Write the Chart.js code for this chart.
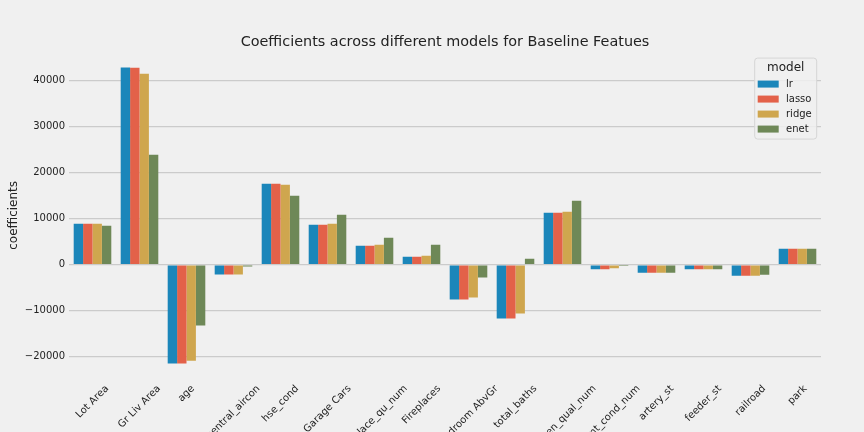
<!DOCTYPE html>
<html>
<head>
<meta charset="utf-8">
<script src="https://cdn.jsdelivr.net/npm/chart.js@4.4.1/dist/chart.umd.min.js"></script>
<style>
html,body{margin:0;padding:0;background:#f0f0f0;}
#wrap{width:864px;height:432px;position:relative;}
</style>
</head>
<body>
<div id="wrap"><canvas id="c"></canvas></div>
<script>
const categories = ['Lot Area','Gr Liv Area','age','central_aircon','hse_cond','Garage Cars','fireplace_qu_num','Fireplaces','Bedroom AbvGr','total_baths','kitchen_qual_num','bsmt_cond_num','artery_st','feeder_st','railroad','park'];
const models = ['lr','lasso','ridge','enet'];
const lrValues    = [8910, 42830, -21450, -2100, 17610, 8700, 4130, 1740, -7540, -11670, 11300, -1000, -1740, -1000, -2390, 3480];
const lassoValues = [8900, 42800, -21430, -2090, 17600, 8690, 4120, 1730, -7520, -11650, 11290, -990, -1740, -1000, -2380, 3480];
const ridgeValues = [8900, 41520, -20870, -2100, 17390, 8900, 4350, 1960, -7100, -10580, 11520, -770, -1740, -1000, -2390, 3480];
const enetValues  = [8480, 23910, -13190, -360, 15000, 10870, 5870, 4350, -2750, 1300, 13900, -30, -1740, -1000, -2170, 3480];
const yTicks = [-20000, -10000, 0, 10000, 20000, 30000, 40000];
const colors = ['#1b86ba','#e36149','#cfa64e','#6e8857'];
const seriesValues = [lrValues, lassoValues, ridgeValues, enetValues];

const FONT = '"DejaVu Sans", "Liberation Sans", sans-serif';
const TEXT = '#222222';

const bgPlugin = {
  id: 'bg',
  beforeDraw(chart) {
    const ctx = chart.ctx;
    ctx.save();
    ctx.fillStyle = '#f0f0f0';
    ctx.fillRect(0, 0, chart.width, chart.height);
    ctx.restore();
  }
};

const xLabelPlugin = {
  id: 'xlabels',
  afterDraw(chart) {
    const ctx = chart.ctx;
    const xs = chart.scales.x;
    const y0 = chart.chartArea.bottom + 5;
    ctx.save();
    ctx.font = '10px ' + FONT;
    ctx.fillStyle = TEXT;
    ctx.textAlign = 'center';
    ctx.textBaseline = 'middle';
    categories.forEach((lab, i) => {
      const x = xs.getPixelForValue(i);
      const w = ctx.measureText(lab).width;
      const h = 11.6;
      const H = (w + h) * Math.SQRT1_2;
      ctx.save();
      ctx.translate(x, y0 + H / 2);
      ctx.rotate(-Math.PI / 4);
      ctx.fillText(lab, 0, 0);
      ctx.restore();
    });
    ctx.restore();
  }
};

const legendPlugin = {
  id: 'boxlegend',
  afterDraw(chart) {
    const ctx = chart.ctx;
    const ca = chart.chartArea;
    const bw = 62, bh = 81;
    const left = ca.right - 4.3 - bw;
    const top = ca.top + 5.3;
    ctx.save();
    ctx.beginPath();
    const r = 3;
    ctx.moveTo(left + r, top);
    ctx.lineTo(left + bw - r, top);
    ctx.quadraticCurveTo(left + bw, top, left + bw, top + r);
    ctx.lineTo(left + bw, top + bh - r);
    ctx.quadraticCurveTo(left + bw, top + bh, left + bw - r, top + bh);
    ctx.lineTo(left + r, top + bh);
    ctx.quadraticCurveTo(left, top + bh, left, top + bh - r);
    ctx.lineTo(left, top + r);
    ctx.quadraticCurveTo(left, top, left + r, top);
    ctx.closePath();
    ctx.fillStyle = 'rgba(240,240,240,0.85)';
    ctx.fill();
    ctx.strokeStyle = '#d6d6d6';
    ctx.lineWidth = 1;
    ctx.stroke();
    ctx.fillStyle = TEXT;
    ctx.font = '12px ' + FONT;
    ctx.textAlign = 'center';
    ctx.textBaseline = 'middle';
    ctx.fillText('model', left + bw / 2, top + 9.5);
    ctx.font = '10px ' + FONT;
    ctx.textAlign = 'left';
    chart.data.datasets.forEach((ds, i) => {
      const cy = top + 26 + i * 15;
      ctx.fillStyle = ds.backgroundColor;
      ctx.fillRect(left + 3, cy - 3.5, 21, 7);
      ctx.fillStyle = TEXT;
      ctx.fillText(ds.label, left + 31.3, cy);
    });
    ctx.restore();
  }
};

new Chart(document.getElementById('c'), {
  type: 'bar',
  data: {
    labels: categories,
    datasets: models.map((m, i) => ({
      label: m,
      data: seriesValues[i],
      backgroundColor: colors[i],
      borderWidth: 0,
      categoryPercentage: 0.8,
      barPercentage: 1.0
    }))
  },
  plugins: [bgPlugin, xLabelPlugin, legendPlugin],
  options: {
    responsive: true,
    maintainAspectRatio: false,
    animation: false,
    layout: { padding: { top: 0, left: 0, right: 43, bottom: 0 } },
    plugins: {
      legend: { display: false },
      tooltip: { enabled: false },
      title: {
        display: true,
        text: 'Coefficients across different models for Baseline Featues',
        fullSize: false,
        color: TEXT,
        font: { family: FONT, size: 14.4, weight: 'normal' },
        padding: { top: 34, bottom: 1.5 }
      }
    },
    scales: {
      x: {
        grid: { display: false, drawTicks: false },
        border: { display: false },
        ticks: { display: false },
        afterFit(scale) { scale.height = 54; }
      },
      y: {
        min: -24600,
        max: 46050,
        grid: { color: '#cbcbcb', lineWidth: 1.3, drawTicks: false },
        border: { display: false },
        afterBuildTicks(scale) { scale.ticks = yTicks.map(v => ({ value: v })); },
        afterFit(scale) { scale.width = 69; },
        ticks: {
          padding: 4,
          color: TEXT,
          font: { family: FONT, size: 10 },
          callback: v => (v < 0 ? '\u2212' : '') + Math.abs(v)
        },
        title: {
          display: true,
          text: 'coefficients',
          color: TEXT,
          font: { family: FONT, size: 12 },
          padding: { top: 7, bottom: 0 }
        }
      }
    }
  }
});
</script>
</body>
</html>
